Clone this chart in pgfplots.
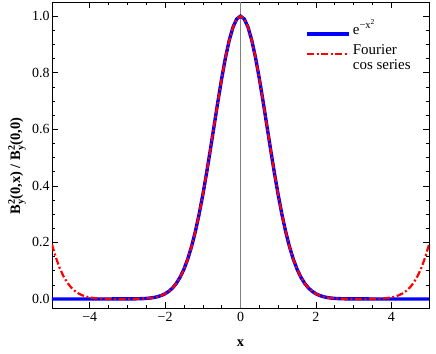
\documentclass[border=0pt]{standalone}
\usepackage{amsmath}
\usepackage{fontspec}
\setmainfont{Liberation Serif}
\usepackage{pgfplots}
\pgfplotsset{compat=1.18}
\begin{document}
\begin{tikzpicture}[x=1bp,y=1bp]
\begin{axis}[
  scale only axis,
  width=377bp, height=306bp,
  xmin=-5, xmax=5, ymin=-0.032, ymax=1.05,
  xtick={-4,-2,0,2,4},
  xticklabels={−4,−2,0,2,4},
  ytick={0,0.2,0.4,0.6,0.8,1.0},
  yticklabels={0.0,0.2,0.4,0.6,0.8,1.0},
  minor x tick num=3,
  minor y tick num=3,
  tick align=inside,
  major tick length=6bp,
  minor tick length=3bp,
  tick style={black, line width=0.6pt},
  axis line style={black, line width=0.8pt},
  ticklabel style={font=\fontsize{14}{16}\selectfont},
  xticklabel style={yshift=-1bp},
  yticklabel style={xshift=1bp},
  xlabel={\bfseries x},
  ylabel={\bfseries B$_{\text{y}}^{\text{2}}$(0,x) / B$_{\text{y}}^{\text{2}}$(0,0)},
  label style={font=\fontsize{14.5}{16}\selectfont},
  xlabel style={at={(axis description cs:0.5,-0.114)}, anchor=center},
  ylabel style={at={(axis description cs:-0.093,0.464)}, anchor=center, rotate=0},
  legend style={draw=none, fill=none, at={(axis description cs:0.664,0.955)}, anchor=north west,
    font=\fontsize{15}{17}\selectfont, row sep=3bp,
    nodes={anchor=base west}},
  legend cell align=left,
  legend image code/.code={\draw[#1] (0bp,0bp) -- (42bp,0bp);},
]
\addplot[gray, line width=0.8pt, forget plot] coordinates {(0,-0.032) (0,1.05)};
\addplot[blue, line width=3.4pt] coordinates {
(-5,0) (-4,0) (-3.5,0.000005) (-3.0,0.000123) (-2.9,0.000222) (-2.8,0.000394) (-2.7,0.000683)
(-2.6,0.001159) (-2.5,0.001930) (-2.4,0.003151) (-2.3,0.005042) (-2.2,0.007907) (-2.1,0.012155)
(-2.0,0.018316) (-1.9,0.027052) (-1.8,0.039164) (-1.7,0.055576) (-1.6,0.077305) (-1.5,0.105399)
(-1.4,0.140858) (-1.3,0.184520) (-1.2,0.236928) (-1.1,0.298197) (-1.0,0.367879) (-0.9,0.444858)
(-0.8,0.527292) (-0.7,0.612626) (-0.6,0.697676) (-0.5,0.778801) (-0.4,0.852144) (-0.3,0.913931)
(-0.2,0.960789) (-0.1,0.990050) (0,1.0)
(0.1,0.990050) (0.2,0.960789) (0.3,0.913931) (0.4,0.852144) (0.5,0.778801) (0.6,0.697676)
(0.7,0.612626) (0.8,0.527292) (0.9,0.444858) (1.0,0.367879) (1.1,0.298197) (1.2,0.236928)
(1.3,0.184520) (1.4,0.140858) (1.5,0.105399) (1.6,0.077305) (1.7,0.055576) (1.8,0.039164)
(1.9,0.027052) (2.0,0.018316) (2.1,0.012155) (2.2,0.007907) (2.3,0.005042) (2.4,0.003151)
(2.5,0.001930) (2.6,0.001159) (2.7,0.000683) (2.8,0.000394) (2.9,0.000222) (3.0,0.000123)
(3.5,0.000005) (4,0) (5,0)
};
\addlegendentry{e$^{\text{−x}^{\text{2}}}$}
\addplot[red, line width=2.2pt, dash pattern=on 7bp off 2.5bp on 2bp off 2.5bp] coordinates {
(-5.0,0.19270) (-4.9,0.14759) (-4.8,0.11081) (-4.7,0.08154) (-4.6,0.05882) (-4.5,0.04159)
(-4.4,0.02883) (-4.3,0.01958) (-4.2,0.01304) (-4.1,0.00851) (-4.0,0.00545) (-3.9,0.003415)
(-3.8,0.00210) (-3.7,0.001265) (-3.6,0.000747) (-3.5,0.000437) (-3.4,0.000245) (-3.3,0.000156)
(-3.2,0.000110) (-3.1,0.000107) (-3.0,0.000144)
(-2.9,0.000222) (-2.8,0.000394) (-2.7,0.000683)
(-2.6,0.001159) (-2.5,0.001930) (-2.4,0.003151) (-2.3,0.005042) (-2.2,0.007907) (-2.1,0.012155)
(-2.0,0.018316) (-1.9,0.027052) (-1.8,0.039164) (-1.7,0.055576) (-1.6,0.077305) (-1.5,0.105399)
(-1.4,0.140858) (-1.3,0.184520) (-1.2,0.236928) (-1.1,0.298197) (-1.0,0.367879) (-0.9,0.444858)
(-0.8,0.527292) (-0.7,0.612626) (-0.6,0.697676) (-0.5,0.778801) (-0.4,0.852144) (-0.3,0.913931)
(-0.2,0.960789) (-0.1,0.990050) (0,1.0)
(0.1,0.990050) (0.2,0.960789) (0.3,0.913931) (0.4,0.852144) (0.5,0.778801) (0.6,0.697676)
(0.7,0.612626) (0.8,0.527292) (0.9,0.444858) (1.0,0.367879) (1.1,0.298197) (1.2,0.236928)
(1.3,0.184520) (1.4,0.140858) (1.5,0.105399) (1.6,0.077305) (1.7,0.055576) (1.8,0.039164)
(1.9,0.027052) (2.0,0.018316) (2.1,0.012155) (2.2,0.007907) (2.3,0.005042) (2.4,0.003151)
(2.5,0.001930) (2.6,0.001159) (2.7,0.000683) (2.8,0.000394) (2.9,0.000222)
(3.0,0.000144) (3.1,0.000107) (3.2,0.000110) (3.3,0.000156) (3.4,0.000245) (3.5,0.000437)
(3.6,0.000747) (3.7,0.001265) (3.8,0.00210) (3.9,0.003415) (4.0,0.00545) (4.1,0.00851)
(4.2,0.01304) (4.3,0.01958) (4.4,0.02883) (4.5,0.04159) (4.6,0.05882) (4.7,0.08154)
(4.8,0.11081) (4.9,0.14759) (5.0,0.19270)
};
\addlegendentry{\begin{tabular}[t]{@{}l@{}}Fourier\\[-2bp]cos series\end{tabular}}
\end{axis}
\path ([shift={(-52bp,-46bp)}]current axis.south west) rectangle ([shift={(7bp,2bp)}]current axis.north east);
\end{tikzpicture}
\end{document}
